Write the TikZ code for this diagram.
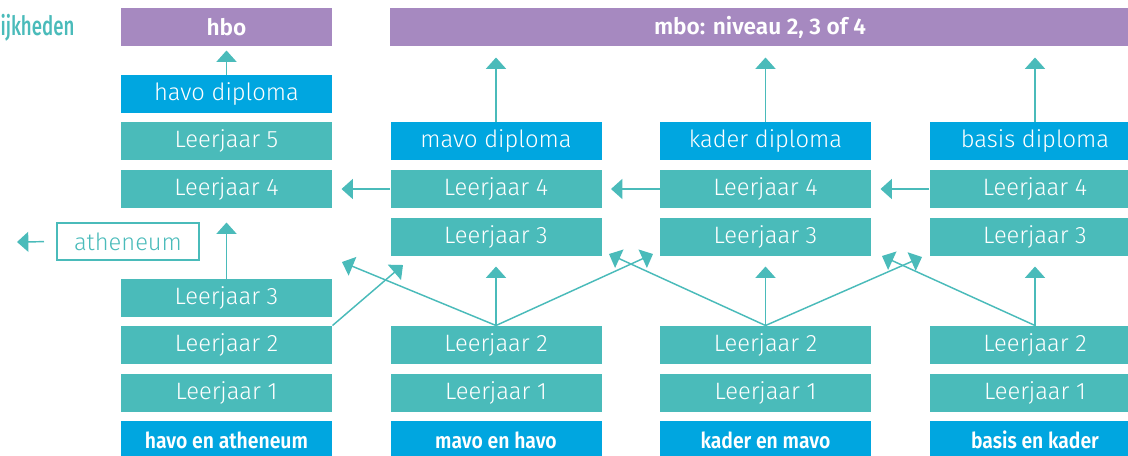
\documentclass[tikz,border=0pt]{standalone}
\usepackage{fontspec}
\setmainfont{Fira Sans}[UprightFont={* Light},BoldFont={* SemiBold}]
\newfontfamily\kopfont{Fira Sans}[UprightFont={* Medium},FakeStretch=0.7]
\newfontfamily\vetfont{Fira Sans}[UprightFont={* SemiBold},FakeStretch=0.88]
\usetikzlibrary{arrows.meta}

\definecolor{turkoois}{RGB}{74,187,186}
\definecolor{blauw}{RGB}{0,166,224}
\definecolor{paars}{RGB}{166,137,192}

\tikzset{every picture/.style={line width=0.75pt}}
\tikzset{
  blok/.style={draw=none, minimum width=158.25pt, minimum height=28.5pt, inner sep=0pt, text=white},
  leerjaar/.style={blok, fill=turkoois, font=\fontsize{17.8}{20}\selectfont},
  diploma/.style={blok, fill=blauw, font=\fontsize{17.8}{20}\selectfont},
  vervolg/.style={blok, fill=paars, font=\fontsize{17}{20}\selectfont\bfseries},
  richting/.style={blok, fill=blauw, font=\vetfont\fontsize{16.5}{18}\selectfont},
  pijl/.style={draw=turkoois, line width=1.1pt, -{Triangle[width=15pt,length=8.5pt]}},
}

\begin{document}
\begin{tikzpicture}[x=0.75pt,y=0.75pt,yscale=-1,xscale=1]
\useasboundingbox (0,0) rectangle (1128,455);

% Text Node
\node[anchor=base west, inner sep=0pt, text=turkoois, font=\kopfont\fontsize{20}{22}\selectfont] (kop) at (0,35) {ijkheden};

%Shape: vervolgopleidingen
\node[vervolg] (hbo) at (226.5,27) {hbo};
\node[vervolg, minimum width=555pt] (mbo) at (760,27) {mbo: niveau 2, 3 of 4};

%Shape: havo en atheneum
\node[diploma] (dipa) at (226.5,94) {havo diploma};
\node[leerjaar] (l5a) at (226.5,141) {Leerjaar 5};
\node[leerjaar] (l4a) at (226.5,189) {Leerjaar 4};
\node[leerjaar] (l3a) at (226.5,298) {Leerjaar 3};
\node[leerjaar] (l2a) at (226.5,345) {Leerjaar 2};
\node[leerjaar] (l1a) at (226.5,393) {Leerjaar 1};
\node[richting] (ra) at (226.5,440) {havo en atheneum};
\node[draw=turkoois, line width=1.5pt, text=turkoois, minimum width=106.5pt, minimum height=27.75pt, inner sep=0pt, font=\fontsize{17.8}{20}\selectfont] (ath) at (128,241.5) {atheneum};

%Shape: mavo en havo
\node[diploma] (dipb) at (496,141) {mavo diploma};
\node[leerjaar] (l4b) at (496,189) {Leerjaar 4};
\node[leerjaar] (l3b) at (496,237) {Leerjaar 3};
\node[leerjaar] (l2b) at (496,345) {Leerjaar 2};
\node[leerjaar] (l1b) at (496,393) {Leerjaar 1};
\node[richting] (rb) at (496,440) {mavo en havo};

%Shape: kader en mavo
\node[diploma] (dipc) at (765.5,141) {kader diploma};
\node[leerjaar] (l4c) at (765.5,189) {Leerjaar 4};
\node[leerjaar] (l3c) at (765.5,237) {Leerjaar 3};
\node[leerjaar] (l2c) at (765.5,345) {Leerjaar 2};
\node[leerjaar] (l1c) at (765.5,393) {Leerjaar 1};
\node[richting] (rc) at (765.5,440) {kader en mavo};

%Shape: basis en kader
\node[diploma] (dipd) at (1035,141) {basis diploma};
\node[leerjaar] (l4d) at (1035,189) {Leerjaar 4};
\node[leerjaar] (l3d) at (1035,237) {Leerjaar 3};
\node[leerjaar] (l2d) at (1035,345) {Leerjaar 2};
\node[leerjaar] (l1d) at (1035,393) {Leerjaar 1};
\node[richting] (rd) at (1035,440) {basis en kader};

%Straight Lines: naar vervolgopleiding
\draw[pijl, shorten >=3pt] (dipa) -- (hbo);
\draw[pijl, shorten >=8.25pt] (dipb) -- (dipb |- mbo.south);
\draw[pijl, shorten >=8.25pt] (dipc) -- (dipc |- mbo.south);
\draw[pijl, shorten >=8.25pt] (dipd) -- (dipd |- mbo.south);

%Straight Lines: doorstromen
\draw[pijl, shorten >=6.75pt] (l4b) -- (l4a);
\draw[pijl, shorten >=6.75pt] (l4c) -- (l4b);
\draw[pijl, shorten >=6.75pt] (l4d) -- (l4c);
\draw[pijl, shorten >=10.5pt] (l3a) -- (l4a);
\draw[pijl, shorten >=7.5pt] (l2b) -- (l3b);
\draw[pijl, shorten >=7.5pt] (l2c) -- (l3c);
\draw[pijl, shorten >=7.5pt] (l2d) -- (l3d);

\coordinate (uit) at (17,242);
\draw[pijl, shorten <=9pt] (ath.west) -- (uit);

%Straight Lines: schuin
\coordinate (sa) at (403,265);
\coordinate (sb1) at (342,262);
\coordinate (sb2) at (653,254);
\coordinate (sc1) at (609,254);
\coordinate (sc2) at (922,257);
\coordinate (sd1) at (882,256);
\draw[pijl] (l2a.north east) -- (sa);
\draw[pijl] (l2b.north) -- (sb1);
\draw[pijl] (l2b.north) -- (sb2);
\draw[pijl] (l2c.north) -- (sc1);
\draw[pijl] (l2c.north) -- (sc2);
\draw[pijl] (l2d.north) -- (sd1);

\end{tikzpicture}
\end{document}
